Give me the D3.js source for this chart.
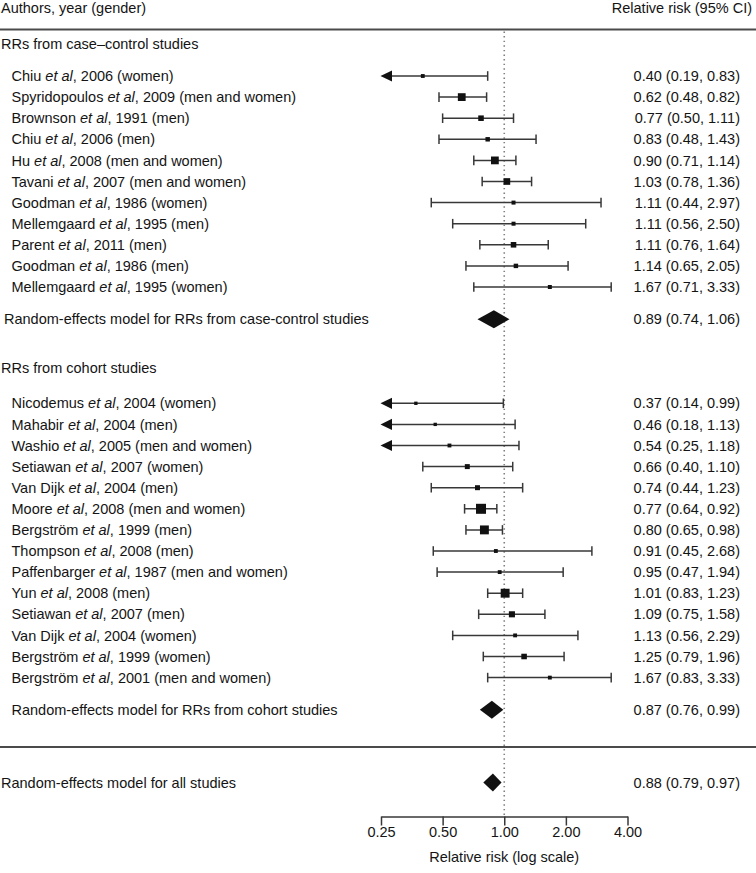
<!DOCTYPE html>
<html><head><meta charset="utf-8">
<script src="https://cdn.jsdelivr.net/npm/d3@7"></script>
<style>
html,body{margin:0;padding:0;background:#fff;}
svg{display:block;font-family:"Liberation Sans",Arial,Helvetica,sans-serif;}
</style></head>
<body><div id="chart"></div>
<script>
// ---- data ----
const ccAuthors = ["Chiu","Spyridopoulos","Brownson","Chiu","Hu","Tavani","Goodman","Mellemgaard","Parent","Goodman","Mellemgaard"];
const ccYears   = [2006,2009,1991,2006,2008,2007,1986,1995,2011,1986,1995];
const ccGender  = ["women","men and women","men","men","men and women","men and women","women","men","men","men","women"];
const ccRR      = [0.40,0.62,0.77,0.83,0.90,1.03,1.11,1.11,1.11,1.14,1.67];
const ccLow     = [0.19,0.48,0.50,0.48,0.71,0.78,0.44,0.56,0.76,0.65,0.71];
const ccHigh    = [0.83,0.82,1.11,1.43,1.14,1.36,2.97,2.50,1.64,2.05,3.33];
const ccWeight  = [12,49,25,16,49,36,13,13,25,16,13];
const ccSummary = {label:"Random-effects model for RRs from case-control studies", rr:0.89, lo:0.74, hi:1.06};

const coAuthors = ["Nicodemus","Mahabir","Washio","Setiawan","Van Dijk","Moore","Bergström","Thompson","Paffenbarger","Yun","Setiawan","Van Dijk","Bergström","Bergström"];
const coYears   = [2004,2004,2005,2007,2004,2008,1999,2008,1987,2008,2007,2004,1999,2001];
const coGender  = ["women","men","men and women","women","men","men and women","men","men","men and women","men","men","women","women","men and women"];
const coRR      = [0.37,0.46,0.54,0.66,0.74,0.77,0.80,0.91,0.95,1.01,1.09,1.13,1.25,1.67];
const coLow     = [0.14,0.18,0.25,0.40,0.44,0.64,0.65,0.45,0.47,0.83,0.75,0.56,0.79,0.83];
const coHigh    = [0.99,1.13,1.18,1.10,1.23,0.92,0.98,2.68,1.94,1.23,1.58,2.29,1.96,3.33];
const coWeight  = [9,9,12,20,20,81,64,12,12,64,30,12,25,12];
const coSummary = {label:"Random-effects model for RRs from cohort studies", rr:0.87, lo:0.76, hi:0.99};

const allSummary = {label:"Random-effects model for all studies", rr:0.88, lo:0.79, hi:0.97};

const tickValues = [0.25,0.5,1,2,4];
const headerLeft = "Authors, year (gender)";
const headerRight = "Relative risk (95% CI)";
const ccTitle = "RRs from case\u2013control studies";
const coTitle = "RRs from cohort studies";
const axisTitle = "Relative risk (log scale)";

// ---- layout ----
const W = 756, H = 873;
const FS = 14.5, BASE = 5.1;
const rowH = 21.1;
const ccHeaderY = 43.5, ccStartY = 76;
const coHeaderY = 368, coStartY = 403.3;
const sumGap = 32.2;
const ruleTopY = 29.5, ruleBotY = 747, allY = 782.5, axisY = 816.5;
const textColor = "#141414", lineColor = "#383838";

const svg = d3.select("#chart").append("svg").attr("width", W).attr("height", H);

const x = d3.scaleLog().base(2).domain([0.25, 4]).range([381, 627.5]);
const size = d3.scaleSqrt().domain([0, 81]).range([0, 10]);

const fmt = d3.format(".2f");
function ciText(rr, lo, hi){ return `${fmt(rr)} (${fmt(lo)}, ${fmt(hi)})`; }

function text(xp, y, str, anchor){
  return svg.append("text").attr("x", xp).attr("y", y + BASE)
    .attr("font-size", FS).attr("fill", textColor)
    .attr("text-anchor", anchor || "start").text(str);
}

// headers
text(1, 8.3, headerLeft);
text(752, 8.3, headerRight, "end");
svg.append("line").attr("x1",0).attr("x2",W).attr("y1",ruleTopY).attr("y2",ruleTopY)
  .attr("stroke","#4a4a4a").attr("stroke-width",2);
svg.append("line").attr("x1",0).attr("x2",W).attr("y1",ruleBotY).attr("y2",ruleBotY)
  .attr("stroke","#4a4a4a").attr("stroke-width",2);

// reference line at 1
svg.append("line").attr("x1",x(1)).attr("x2",x(1)).attr("y1",ruleTopY+2).attr("y2",axisY)
  .attr("stroke","#808080").attr("stroke-width",1.6).attr("stroke-dasharray","1.4,3.2");

function studyRows(authors, years, gender, rr, lo, hi, wt, y0){
  const rows = authors.map((a,i)=>({a, yr:years[i], g:gender[i], rr:rr[i], lo:lo[i], hi:hi[i], w:wt[i], y:y0 + i*rowH}));
  const g = svg.append("g");
  rows.forEach(r=>{
    const t = g.append("text").attr("x",11.5).attr("y",r.y+BASE).attr("font-size",FS).attr("fill",textColor);
    t.append("tspan").text(r.a + " ");
    t.append("tspan").attr("font-style","italic").text("et al");
    t.append("tspan").text(`, ${r.yr} (${r.g})`);
    g.append("text").attr("x",740).attr("y",r.y+BASE).attr("font-size",FS).attr("fill",textColor)
      .attr("text-anchor","end").text(ciText(r.rr, r.lo, r.hi));
    const truncated = r.lo <= 0.25;
    const xl = truncated ? x(0.25) : x(r.lo);
    const xh = x(r.hi);
    g.append("line").attr("x1", truncated ? xl + 6 : xl).attr("x2", xh).attr("y1", r.y).attr("y2", r.y)
      .attr("stroke", lineColor).attr("stroke-width", 1.5);
    g.append("line").attr("x1", xh).attr("x2", xh).attr("y1", r.y-4.8).attr("y2", r.y+4.8)
      .attr("stroke", lineColor).attr("stroke-width", 1.5);
    if (truncated){
      g.append("path").attr("d", `M${xl-0.5},${r.y} L${xl+11},${r.y-5.6} L${xl+11},${r.y+5.6} Z`).attr("fill","#111");
    } else {
      g.append("line").attr("x1", xl).attr("x2", xl).attr("y1", r.y-4.8).attr("y2", r.y+4.8)
        .attr("stroke", lineColor).attr("stroke-width", 1.5);
    }
    const s = size(r.w);
    g.append("rect").attr("x", x(r.rr)-s/2).attr("y", r.y-s/2).attr("width", s).attr("height", s).attr("fill","#111");
  });
  return rows;
}

function summaryRow(sm, y, labelX){
  text(labelX, y, sm.label);
  text(740, y, ciText(sm.rr, sm.lo, sm.hi), "end");
  const h = 9;
  svg.append("path").attr("d", `M${x(sm.lo)},${y} L${x(sm.rr)},${y-h} L${x(sm.hi)},${y} L${x(sm.rr)},${y+h} Z`).attr("fill","#111");
}

text(1, ccHeaderY, ccTitle);
studyRows(ccAuthors, ccYears, ccGender, ccRR, ccLow, ccHigh, ccWeight, ccStartY);
summaryRow(ccSummary, ccStartY + (ccAuthors.length-1)*rowH + sumGap, 4);

text(1, coHeaderY, coTitle);
studyRows(coAuthors, coYears, coGender, coRR, coLow, coHigh, coWeight, coStartY);
summaryRow(coSummary, coStartY + (coAuthors.length-1)*rowH + sumGap, 11.5);

summaryRow(allSummary, allY, 1);

// axis
const axis = d3.axisBottom(x).tickValues(tickValues).tickFormat(d3.format(".2f")).tickSize(9).tickSizeOuter(0).tickPadding(1.5);
const ag = svg.append("g").attr("transform", `translate(0,${axisY})`).call(axis);
ag.select(".domain").attr("stroke", lineColor).attr("stroke-width", 1.5);
ag.selectAll(".tick line").attr("stroke", lineColor).attr("stroke-width", 1.5);
ag.selectAll(".tick text").attr("font-size", FS).attr("fill", textColor)
  .attr("font-family", '"Liberation Sans",Arial,Helvetica,sans-serif');
text(x(1), 856.7, axisTitle, "middle");
</script>
</body></html>
